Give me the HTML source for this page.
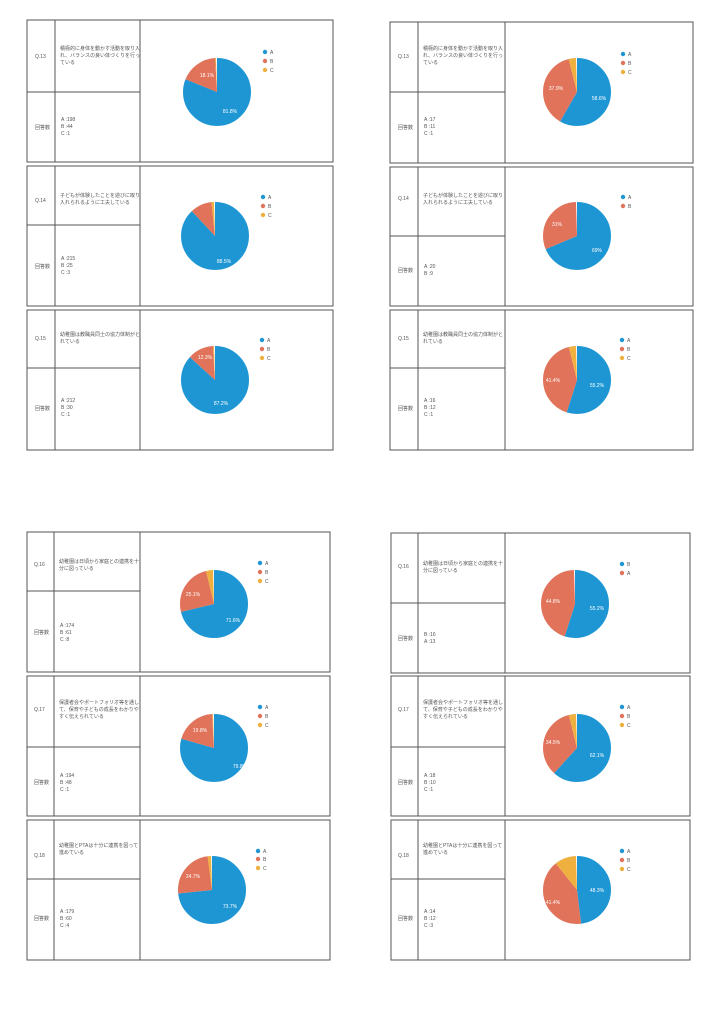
<!DOCTYPE html>
<html><head><meta charset="utf-8"><style>
html,body{margin:0;padding:0;background:#fff;}
svg{display:block;font-family:"Liberation Sans","Noto Sans CJK JP",sans-serif;}
.ln{stroke:#555;stroke-width:1;fill:none}
.t{font-size:5px;fill:#555}
.w{font-size:5px;fill:#fff}
</style></head><body>
<svg width="724" height="1024" viewBox="0 0 724 1024">
<defs>
<g id="x"></g>
</defs>
<!-- Card frames -->
<g class="ln">
<!-- left top -->
<rect x="27" y="20" width="306" height="142"/><line x1="55" y1="20" x2="55" y2="162"/><line x1="140" y1="20" x2="140" y2="162"/><line x1="27" y1="92" x2="140" y2="92"/>
<rect x="27" y="166" width="306" height="140"/><line x1="55" y1="166" x2="55" y2="306"/><line x1="140" y1="166" x2="140" y2="306"/><line x1="27" y1="225" x2="140" y2="225"/>
<rect x="27" y="310" width="306" height="140"/><line x1="55" y1="310" x2="55" y2="450"/><line x1="140" y1="310" x2="140" y2="450"/><line x1="27" y1="368" x2="140" y2="368"/>
<!-- right top -->
<rect x="390" y="22" width="303" height="141"/><line x1="418" y1="22" x2="418" y2="163"/><line x1="505" y1="22" x2="505" y2="163"/><line x1="390" y1="92" x2="505" y2="92"/>
<rect x="390" y="167" width="303" height="139"/><line x1="418" y1="167" x2="418" y2="306"/><line x1="505" y1="167" x2="505" y2="306"/><line x1="390" y1="236" x2="505" y2="236"/>
<rect x="390" y="310" width="303" height="140"/><line x1="418" y1="310" x2="418" y2="450"/><line x1="505" y1="310" x2="505" y2="450"/><line x1="390" y1="368" x2="505" y2="368"/>
<!-- left bottom -->
<rect x="27" y="532" width="303" height="140"/><line x1="54" y1="532" x2="54" y2="672"/><line x1="140" y1="532" x2="140" y2="672"/><line x1="27" y1="591" x2="140" y2="591"/>
<rect x="27" y="676" width="303" height="140"/><line x1="54" y1="676" x2="54" y2="816"/><line x1="140" y1="676" x2="140" y2="816"/><line x1="27" y1="747" x2="140" y2="747"/>
<rect x="27" y="820" width="303" height="140"/><line x1="54" y1="820" x2="54" y2="960"/><line x1="140" y1="820" x2="140" y2="960"/><line x1="27" y1="879" x2="140" y2="879"/>
<!-- right bottom -->
<rect x="391" y="533" width="299" height="140"/><line x1="418" y1="533" x2="418" y2="673"/><line x1="505" y1="533" x2="505" y2="673"/><line x1="391" y1="603" x2="505" y2="603"/>
<rect x="391" y="676" width="299" height="140"/><line x1="418" y1="676" x2="418" y2="816"/><line x1="505" y1="676" x2="505" y2="816"/><line x1="391" y1="747" x2="505" y2="747"/>
<rect x="391" y="820" width="299" height="140"/><line x1="418" y1="820" x2="418" y2="960"/><line x1="505" y1="820" x2="505" y2="960"/><line x1="391" y1="879" x2="505" y2="879"/>
</g>

<!-- Texts left top -->
<text class="t" x="35" y="58">Q.13</text>
<text class="t" x="60" y="50">積極的に身体を動かす活動を取り入</text><text class="t" x="60" y="57">れ、バランスの良い体づくりを行っ</text><text class="t" x="60" y="64">ている</text>
<text class="t" x="35" y="129">回答数</text><text class="t" x="61" y="121">A :198</text><text class="t" x="61" y="128">B :44</text><text class="t" x="61" y="135">C :1</text>

<text class="t" x="35" y="202">Q.14</text>
<text class="t" x="60" y="197">子どもが体験したことを遊びに取り</text><text class="t" x="60" y="204">入れられるように工夫している</text>
<text class="t" x="35" y="268">回答数</text><text class="t" x="61" y="260">A :215</text><text class="t" x="61" y="267">B :25</text><text class="t" x="61" y="274">C :3</text>

<text class="t" x="35" y="340">Q.15</text>
<text class="t" x="60" y="336">幼稚園は教職員同士の協力体制がと</text><text class="t" x="60" y="343">れている</text>
<text class="t" x="35" y="410">回答数</text><text class="t" x="61" y="402">A :212</text><text class="t" x="61" y="409">B :30</text><text class="t" x="61" y="416">C :1</text>

<!-- right top -->
<text class="t" x="398" y="58">Q.13</text>
<text class="t" x="423" y="50">積極的に身体を動かす活動を取り入</text><text class="t" x="423" y="57">れ、バランスの良い体づくりを行っ</text><text class="t" x="423" y="64">ている</text>
<text class="t" x="398" y="129">回答数</text><text class="t" x="424" y="121">A :17</text><text class="t" x="424" y="128">B :11</text><text class="t" x="424" y="135">C :1</text>

<text class="t" x="398" y="200">Q.14</text>
<text class="t" x="423" y="197">子どもが体験したことを遊びに取り</text><text class="t" x="423" y="204">入れられるように工夫している</text>
<text class="t" x="398" y="272">回答数</text><text class="t" x="424" y="268">A :20</text><text class="t" x="424" y="275">B :9</text>

<text class="t" x="398" y="340">Q.15</text>
<text class="t" x="423" y="336">幼稚園は教職員同士の協力体制がと</text><text class="t" x="423" y="343">れている</text>
<text class="t" x="398" y="410">回答数</text><text class="t" x="424" y="402">A :16</text><text class="t" x="424" y="409">B :12</text><text class="t" x="424" y="416">C :1</text>

<!-- left bottom -->
<text class="t" x="34" y="566">Q.16</text>
<text class="t" x="59" y="563">幼稚園は日頃から家庭との連携を十</text><text class="t" x="59" y="570">分に図っている</text>
<text class="t" x="34" y="634">回答数</text><text class="t" x="60" y="627">A :174</text><text class="t" x="60" y="634">B :61</text><text class="t" x="60" y="641">C :8</text>

<text class="t" x="34" y="711">Q.17</text>
<text class="t" x="59" y="704">保護者会やポートフォリオ等を通し</text><text class="t" x="59" y="711">て、保育や子どもの成長をわかりや</text><text class="t" x="59" y="718">すく伝えられている</text>
<text class="t" x="34" y="784">回答数</text><text class="t" x="60" y="777">A :194</text><text class="t" x="60" y="784">B :48</text><text class="t" x="60" y="791">C :1</text>

<text class="t" x="34" y="857">Q.18</text>
<text class="t" x="59" y="847">幼稚園とPTAは十分に連携を図って</text><text class="t" x="59" y="854">進めている</text>
<text class="t" x="34" y="920">回答数</text><text class="t" x="60" y="913">A :179</text><text class="t" x="60" y="920">B :60</text><text class="t" x="60" y="927">C :4</text>

<!-- right bottom -->
<text class="t" x="398" y="568">Q.16</text>
<text class="t" x="423" y="565">幼稚園は日頃から家庭との連携を十</text><text class="t" x="423" y="572">分に図っている</text>
<text class="t" x="398" y="640">回答数</text><text class="t" x="424" y="636">B :16</text><text class="t" x="424" y="643">A :13</text>

<text class="t" x="398" y="711">Q.17</text>
<text class="t" x="423" y="704">保護者会やポートフォリオ等を通し</text><text class="t" x="423" y="711">て、保育や子どもの成長をわかりや</text><text class="t" x="423" y="718">すく伝えられている</text>
<text class="t" x="398" y="784">回答数</text><text class="t" x="424" y="777">A :18</text><text class="t" x="424" y="784">B :10</text><text class="t" x="424" y="791">C :1</text>

<text class="t" x="398" y="857">Q.18</text>
<text class="t" x="423" y="847">幼稚園とPTAは十分に連携を図って</text><text class="t" x="423" y="854">進めている</text>
<text class="t" x="398" y="920">回答数</text><text class="t" x="424" y="913">A :14</text><text class="t" x="424" y="920">B :12</text><text class="t" x="424" y="927">C :3</text>

<!-- Pies: circle r=17 stroke 34, pathLength 100 -->
<g fill="none" stroke-width="34">
<!-- L13 -->
<g transform="translate(217,92) rotate(-90)">
<circle r="17" pathLength="100" stroke="#1e96d4" stroke-dasharray="81.5 100"/>
<circle r="17" pathLength="100" stroke="#e0735a" stroke-dasharray="18.1 100" stroke-dashoffset="-81.5"/>
<circle r="17" pathLength="100" stroke="#f0b040" stroke-dasharray="0.4 100" stroke-dashoffset="-99.6"/></g>
<!-- L14 -->
<g transform="translate(215,236) rotate(-90)">
<circle r="17" pathLength="100" stroke="#1e96d4" stroke-dasharray="88.5 100"/>
<circle r="17" pathLength="100" stroke="#e0735a" stroke-dasharray="10.3 100" stroke-dashoffset="-88.5"/>
<circle r="17" pathLength="100" stroke="#f0b040" stroke-dasharray="1.2 100" stroke-dashoffset="-98.8"/></g>
<!-- L15 -->
<g transform="translate(215,380) rotate(-90)">
<circle r="17" pathLength="100" stroke="#1e96d4" stroke-dasharray="87.2 100"/>
<circle r="17" pathLength="100" stroke="#e0735a" stroke-dasharray="12.3 100" stroke-dashoffset="-87.2"/>
<circle r="17" pathLength="100" stroke="#f0b040" stroke-dasharray="0.5 100" stroke-dashoffset="-99.5"/></g>
<!-- R13 -->
<g transform="translate(577,92) rotate(-90)">
<circle r="17" pathLength="100" stroke="#1e96d4" stroke-dasharray="58.6 100"/>
<circle r="17" pathLength="100" stroke="#e0735a" stroke-dasharray="37.9 100" stroke-dashoffset="-58.6"/>
<circle r="17" pathLength="100" stroke="#f0b040" stroke-dasharray="3.5 100" stroke-dashoffset="-96.5"/></g>
<!-- R14 -->
<g transform="translate(577,236) rotate(-90)">
<circle r="17" pathLength="100" stroke="#1e96d4" stroke-dasharray="69 100"/>
<circle r="17" pathLength="100" stroke="#e0735a" stroke-dasharray="31 100" stroke-dashoffset="-69"/></g>
<!-- R15 -->
<g transform="translate(577,380) rotate(-90)">
<circle r="17" pathLength="100" stroke="#1e96d4" stroke-dasharray="55.2 100"/>
<circle r="17" pathLength="100" stroke="#e0735a" stroke-dasharray="41.4 100" stroke-dashoffset="-55.2"/>
<circle r="17" pathLength="100" stroke="#f0b040" stroke-dasharray="3.4 100" stroke-dashoffset="-96.6"/></g>
<!-- L16 -->
<g transform="translate(214,604) rotate(-90)">
<circle r="17" pathLength="100" stroke="#1e96d4" stroke-dasharray="71.6 100"/>
<circle r="17" pathLength="100" stroke="#e0735a" stroke-dasharray="25.1 100" stroke-dashoffset="-71.6"/>
<circle r="17" pathLength="100" stroke="#f0b040" stroke-dasharray="3.3 100" stroke-dashoffset="-96.7"/></g>
<!-- L17 -->
<g transform="translate(214,748) rotate(-90)">
<circle r="17" pathLength="100" stroke="#1e96d4" stroke-dasharray="79.8 100"/>
<circle r="17" pathLength="100" stroke="#e0735a" stroke-dasharray="19.8 100" stroke-dashoffset="-79.8"/>
<circle r="17" pathLength="100" stroke="#f0b040" stroke-dasharray="0.4 100" stroke-dashoffset="-99.6"/></g>
<!-- L18 -->
<g transform="translate(212,890) rotate(-90)">
<circle r="17" pathLength="100" stroke="#1e96d4" stroke-dasharray="73.7 100"/>
<circle r="17" pathLength="100" stroke="#e0735a" stroke-dasharray="24.7 100" stroke-dashoffset="-73.7"/>
<circle r="17" pathLength="100" stroke="#f0b040" stroke-dasharray="1.6 100" stroke-dashoffset="-98.4"/></g>
<!-- R16 -->
<g transform="translate(575,604) rotate(-90)">
<circle r="17" pathLength="100" stroke="#1e96d4" stroke-dasharray="55.2 100"/>
<circle r="17" pathLength="100" stroke="#e0735a" stroke-dasharray="44.8 100" stroke-dashoffset="-55.2"/></g>
<!-- R17 -->
<g transform="translate(577,748) rotate(-90)">
<circle r="17" pathLength="100" stroke="#1e96d4" stroke-dasharray="62.1 100"/>
<circle r="17" pathLength="100" stroke="#e0735a" stroke-dasharray="34.5 100" stroke-dashoffset="-62.1"/>
<circle r="17" pathLength="100" stroke="#f0b040" stroke-dasharray="3.4 100" stroke-dashoffset="-96.6"/></g>
<!-- R18 -->
<g transform="translate(577,890) rotate(-90)">
<circle r="17" pathLength="100" stroke="#1e96d4" stroke-dasharray="48.3 100"/>
<circle r="17" pathLength="100" stroke="#e0735a" stroke-dasharray="41.4 100" stroke-dashoffset="-48.3"/>
<circle r="17" pathLength="100" stroke="#f0b040" stroke-dasharray="10.3 100" stroke-dashoffset="-89.7"/></g>
</g>

<!-- Slice labels -->
<g class="w" text-anchor="middle">
<text x="207" y="77">18.1%</text><text x="230" y="113">81.8%</text>
<text x="224" y="263">88.5%</text>
<text x="205" y="359">12.3%</text><text x="221" y="405">87.2%</text>
<text x="556" y="90">37.9%</text><text x="599" y="100">58.6%</text>
<text x="557" y="226">31%</text><text x="597" y="252">69%</text>
<text x="553" y="382">41.4%</text><text x="597" y="387">55.2%</text>
<text x="193" y="596">25.1%</text><text x="233" y="622">71.6%</text>
<text x="200" y="732">19.8%</text><text x="240" y="768">79.8%</text>
<text x="193" y="878">24.7%</text><text x="230" y="908">73.7%</text>
<text x="553" y="603">44.8%</text><text x="597" y="610">55.2%</text>
<text x="553" y="744">34.5%</text><text x="597" y="757">62.1%</text>
<text x="553" y="904">41.4%</text><text x="597" y="892">48.3%</text>
</g>

<!-- Legends -->
<g class="t">
<circle cx="265" cy="52" r="2.2" fill="#1e96d4"/><text x="270" y="54">A</text><circle cx="265" cy="61" r="2.2" fill="#e0735a"/><text x="270" y="63">B</text><circle cx="265" cy="70" r="2.2" fill="#f0b040"/><text x="270" y="72">C</text>
<circle cx="263" cy="197" r="2.2" fill="#1e96d4"/><text x="268" y="199">A</text><circle cx="263" cy="206" r="2.2" fill="#e0735a"/><text x="268" y="208">B</text><circle cx="263" cy="215" r="2.2" fill="#f0b040"/><text x="268" y="217">C</text>
<circle cx="262" cy="340" r="2.2" fill="#1e96d4"/><text x="267" y="342">A</text><circle cx="262" cy="349" r="2.2" fill="#e0735a"/><text x="267" y="351">B</text><circle cx="262" cy="358" r="2.2" fill="#f0b040"/><text x="267" y="360">C</text>
<circle cx="623" cy="54" r="2.2" fill="#1e96d4"/><text x="628" y="56">A</text><circle cx="623" cy="63" r="2.2" fill="#e0735a"/><text x="628" y="65">B</text><circle cx="623" cy="72" r="2.2" fill="#f0b040"/><text x="628" y="74">C</text>
<circle cx="623" cy="197" r="2.2" fill="#1e96d4"/><text x="628" y="199">A</text><circle cx="623" cy="206" r="2.2" fill="#e0735a"/><text x="628" y="208">B</text>
<circle cx="622" cy="340" r="2.2" fill="#1e96d4"/><text x="627" y="342">A</text><circle cx="622" cy="349" r="2.2" fill="#e0735a"/><text x="627" y="351">B</text><circle cx="622" cy="358" r="2.2" fill="#f0b040"/><text x="627" y="360">C</text>
<circle cx="260" cy="563" r="2.2" fill="#1e96d4"/><text x="265" y="565">A</text><circle cx="260" cy="572" r="2.2" fill="#e0735a"/><text x="265" y="574">B</text><circle cx="260" cy="581" r="2.2" fill="#f0b040"/><text x="265" y="583">C</text>
<circle cx="260" cy="707" r="2.2" fill="#1e96d4"/><text x="265" y="709">A</text><circle cx="260" cy="716" r="2.2" fill="#e0735a"/><text x="265" y="718">B</text><circle cx="260" cy="725" r="2.2" fill="#f0b040"/><text x="265" y="727">C</text>
<circle cx="258" cy="851" r="2.2" fill="#1e96d4"/><text x="263" y="853">A</text><circle cx="258" cy="859" r="2.2" fill="#e0735a"/><text x="263" y="861">B</text><circle cx="258" cy="868" r="2.2" fill="#f0b040"/><text x="263" y="870">C</text>
<circle cx="622" cy="564" r="2.2" fill="#1e96d4"/><text x="627" y="566">B</text><circle cx="622" cy="573" r="2.2" fill="#e0735a"/><text x="627" y="575">A</text>
<circle cx="622" cy="707" r="2.2" fill="#1e96d4"/><text x="627" y="709">A</text><circle cx="622" cy="716" r="2.2" fill="#e0735a"/><text x="627" y="718">B</text><circle cx="622" cy="725" r="2.2" fill="#f0b040"/><text x="627" y="727">C</text>
<circle cx="622" cy="851" r="2.2" fill="#1e96d4"/><text x="627" y="853">A</text><circle cx="622" cy="860" r="2.2" fill="#e0735a"/><text x="627" y="862">B</text><circle cx="622" cy="869" r="2.2" fill="#f0b040"/><text x="627" y="871">C</text>
</g>
</svg>
</body></html>
